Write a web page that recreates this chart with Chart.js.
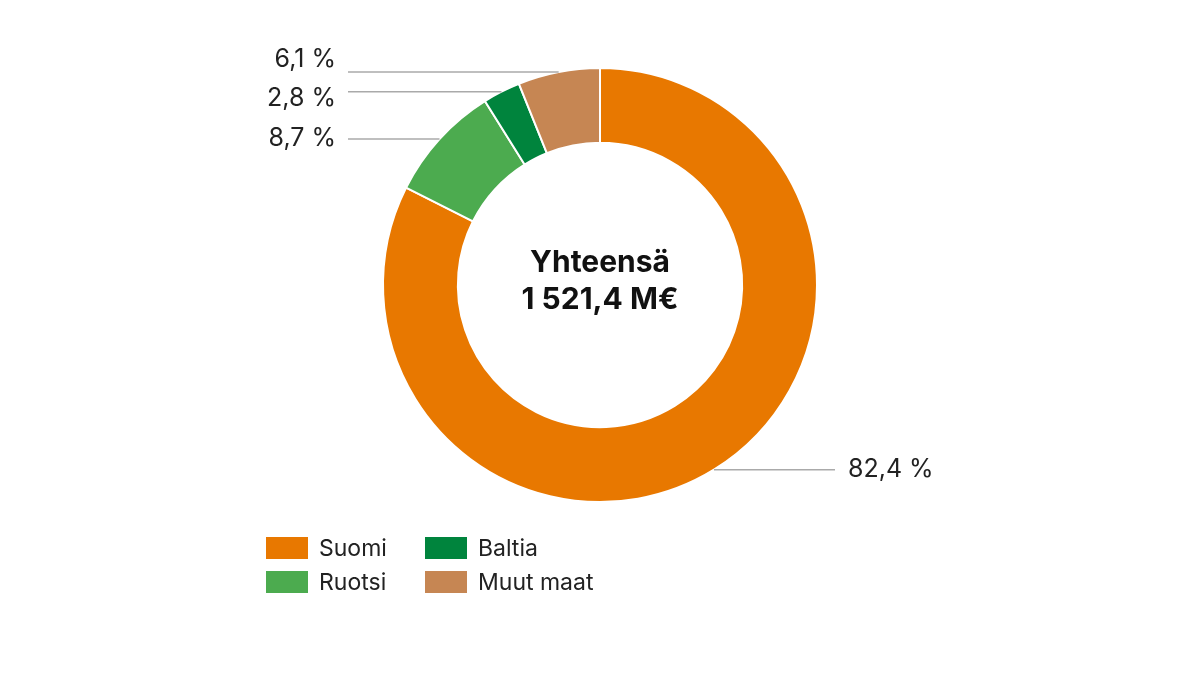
<!DOCTYPE html>
<html>
<head>
<meta charset="utf-8">
<script src="https://cdn.jsdelivr.net/npm/chart.js@4"></script>
<style>
body { margin: 0; background: #fff; font-family: Inter, "Open Sans", sans-serif; }
#wrap { position: relative; width: 1200px; height: 675px; }
#legend { position: absolute; left: 266px; top: 536px; display: grid; grid-template-columns: 159px 200px; row-gap: 10px; font-size: 23px; color: #222; }
.item { display: flex; align-items: center; height: 24px; }
.box { width: 42px; height: 22px; margin-right: 11px; }
</style>
</head>
<body>
<div id="wrap">
<canvas id="grafico" width="1200" height="675"></canvas>
<div id="legend"></div>
</div>
<script>
const maat = ['Suomi', 'Ruotsi', 'Baltia', 'Muut maat'];
const osuudet = [82.4, 8.7, 2.8, 6.1];
const varit = ['#E87800', '#4CAB4F', '#00843D', '#C68653'];
const legendJarjestys = [0, 2, 1, 3];

// leader lines: label side and text offset from the line
const labelPuoli = ['right', 'left', 'left', 'left'];
const tekstiSiirto = [0, 0, 7, -12];

const viivat = {
    id: 'viivat',
    afterDraw(chart) {
        const ctx = chart.ctx;
        const meta = chart.getDatasetMeta(0);
        ctx.save();
        ctx.font = '25px Inter, "Open Sans", sans-serif';
        ctx.textBaseline = 'middle';
        meta.data.forEach((arc, i) => {
            const p = arc.getProps(['x', 'y', 'startAngle', 'endAngle', 'outerRadius']);
            const mid = (p.startAngle + p.endAngle) / 2;
            const x = p.x + Math.cos(mid) * p.outerRadius;
            const y = p.y + Math.sin(mid) * p.outerRadius;
            const teksti = osuudet[i].toFixed(1).replace('.', ',') + ' %';
            ctx.strokeStyle = '#aaa';
            ctx.lineWidth = 1.5;
            ctx.beginPath();
            ctx.moveTo(x, y);
            ctx.fillStyle = '#222';
            if (labelPuoli[i] == 'right') {
                ctx.lineTo(835, y);
                ctx.stroke();
                ctx.textAlign = 'left';
                ctx.fillText(teksti, 848, y + tekstiSiirto[i]);
            } else {
                ctx.lineTo(348, y);
                ctx.stroke();
                ctx.textAlign = 'right';
                ctx.fillText(teksti, 336, y + tekstiSiirto[i]);
            }
        });
        ctx.fillStyle = '#111';
        ctx.textAlign = 'center';
        ctx.font = 'bold 30px Inter, "Open Sans", sans-serif';
        ctx.fillText('Yhteensä', meta.data[0].x, 263);
        ctx.fillText('1 521,4 M€', meta.data[0].x, 300);
        ctx.restore();
    }
};

new Chart(document.getElementById('grafico'), {
    type: 'doughnut',
    data: {
        labels: maat,
        datasets: [{
            data: osuudet,
            backgroundColor: varit,
            borderColor: '#FFFFFF',
            borderWidth: 2
        }]
    },
    options: {
        responsive: false,
        animation: false,
        cutout: '65.5%',
        layout: { padding: { top: 67, bottom: 172, left: 0, right: 0 } },
        plugins: {
            legend: { display: false },
            tooltip: { enabled: false }
        }
    },
    plugins: [viivat]
});

const legend = document.getElementById('legend');
legendJarjestys.forEach(i => {
    legend.innerHTML += `<div class="item"><div class="box" style="background:${varit[i]}"></div>${maat[i]}</div>`;
});
</script>
</body>
</html>
